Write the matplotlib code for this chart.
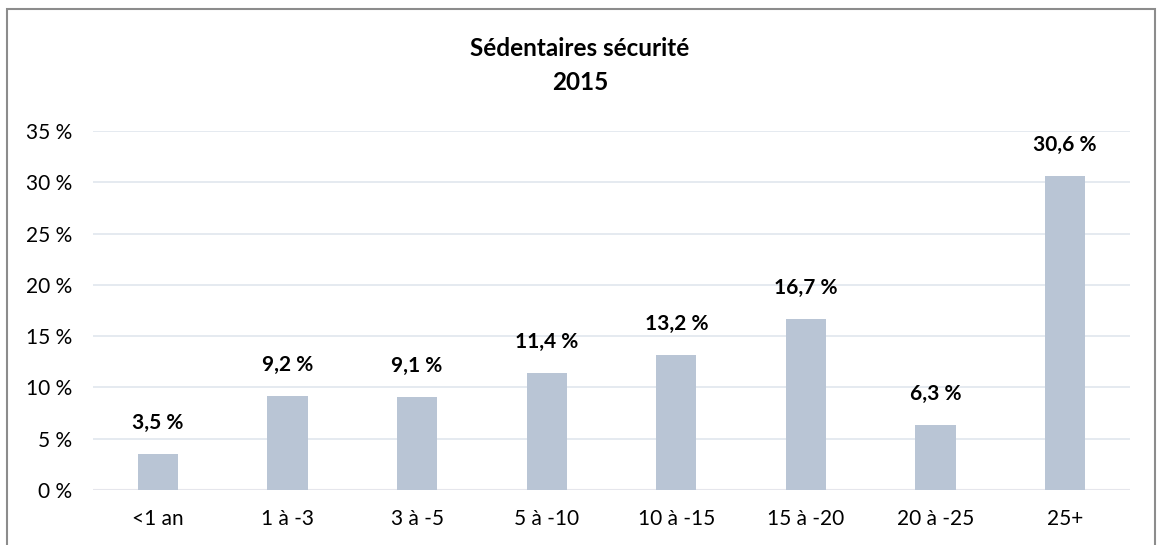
import matplotlib.pyplot as plt
import numpy as np
from matplotlib.patches import Rectangle

# Data
categories = ["<1 an", "1 à -3", "3 à -5", "5 à -10", "10 à -15", "15 à -20", "20 à -25", "25+"]
values = [3.5, 9.2, 9.1, 11.4, 13.2, 16.7, 6.3, 30.6]
yticks = [0, 5, 10, 15, 20, 25, 30, 35]
ytick_labels = [f"{t} %" for t in yticks]

plt.rcParams['font.family'] = ['Lato', 'DejaVu Sans']

fig = plt.figure(figsize=(11.6, 5.45), dpi=100)
ax = fig.add_axes([93 / 1160, 1 - 490 / 545, (1130 - 93) / 1160, (490 - 131) / 545])

x = np.arange(len(categories))
ax.bar(x, values, width=0.31, color="#b9c5d5", zorder=2)

# value labels above the bars
for xi, v in zip(x, values):
    ax.annotate(f"{v:.1f} %".replace(".", ","), xy=(xi, v), xytext=(0, 18),
                textcoords="offset points", ha="center", va="baseline",
                fontsize=15, fontweight="bold", color="black")

ax.set_xlim(-0.5, len(categories) - 0.5)
ax.set_ylim(0, 35)
ax.set_yticks(yticks)
ax.set_yticklabels(ytick_labels)
ax.set_xticks(x)
ax.set_xticklabels(categories)
ax.tick_params(axis="both", length=0, labelsize=15, colors="black")
ax.tick_params(axis="x", pad=14)
ax.tick_params(axis="y", pad=15)

ax.yaxis.grid(True, color="#e3e8ef", linewidth=1.3, zorder=0)
for s in ax.spines.values():
    s.set_visible(False)
ax.axhline(0, color="#f8dcd4", linewidth=1.5, zorder=1)

fig.text(580 / 1160, 1 - 48 / 545, "Sédentaires sécurité", ha="center", va="center",
         fontsize=17.5, fontweight="bold")
fig.text(580 / 1160, 1 - 82 / 545, "2015", ha="center", va="center",
         fontsize=17.5, fontweight="bold")

# chart border
fig.patches.append(Rectangle((7 / 1160, -0.05), (1155 - 7) / 1160, 1 - 9 / 545 + 0.05,
                             transform=fig.transFigure, fill=False,
                             edgecolor="#8c8c8c", linewidth=1.5))

fig.savefig("out.png", dpi=100)
